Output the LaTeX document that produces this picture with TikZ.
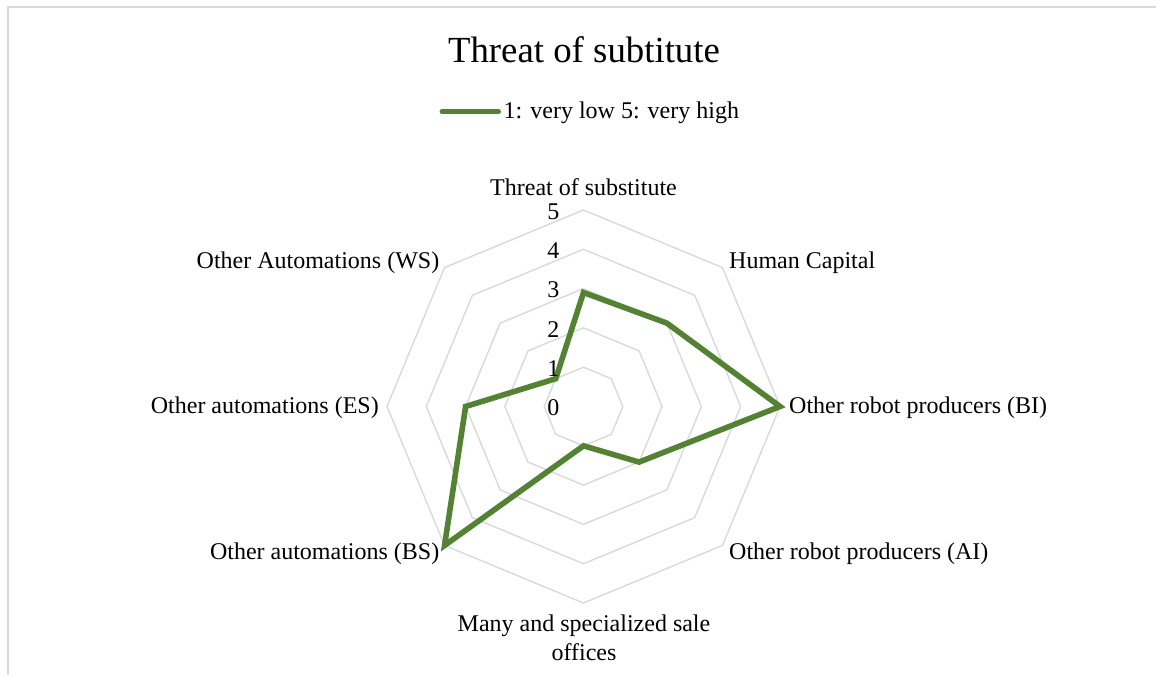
\documentclass[tikz,border=0pt]{standalone}
\usepackage{fontspec}
\setmainfont{Liberation Serif}
\definecolor{seriesgreen}{HTML}{548235}
\definecolor{gridgray}{HTML}{D9D9D9}
\begin{document}
\begin{tikzpicture}[x=1pt,y=1pt,
  lbl/.style={font=\fontsize{24}{28.3}\selectfont, inner sep=0pt, text=black},
  charttitle/.style={font=\fontsize{36.8}{40}\selectfont, inner sep=0pt},
  ring/.style={draw=gridgray, line width=1.4pt, line join=miter},
  seriesline/.style={draw=seriesgreen, line width=5.6pt, line join=miter},
  legendline/.style={draw=seriesgreen, line width=5pt, line cap=round},
  frameline/.style={draw=gridgray, line width=2pt}]
\useasboundingbox (0,0) rectangle (1156,675);

% chart area border (open at right and bottom)
\coordinate (fbl) at (7.5,0);
\coordinate (ftl) at (7.5,667.5);
\coordinate (ftr) at (1156,667.5);
\draw[frameline] (fbl) -- (ftl) -- (ftr);

% title and legend
\node[charttitle, anchor=base] (title) at (584,612.7) {Threat of subtitute};
\coordinate (lgA) at (442,563.3);
\coordinate (lgB) at (498.5,563.3);
\draw[legendline] (lgA) -- (lgB);
\node[lbl, anchor=base west] (lgtext) at (503.5,556) {1: very low 5: very high};

% radar grid and data
\def\u{39.3}
\begin{scope}[shift={(583.5,268.5)}]
  \foreach \k in {1,...,5} {
    \draw[ring] (90:{\k*\u}) \foreach \a in {135,180,...,405} { -- (\a:{\k*\u}) } -- cycle;
  }
  \coordinate (c) at (0,0);
  \coordinate (d1) at (90:{2.9*\u});
  \coordinate (d2) at (45:{3*\u});
  \coordinate (d3) at (0:{5*\u});
  \coordinate (d4) at (-45:{2*\u});
  \coordinate (d5) at (-90:{1*\u});
  \coordinate (d6) at (-135:{5*\u});
  \coordinate (d7) at (180:{3*\u});
  \coordinate (d8) at (135:{1*\u});
  \draw[seriesline] (d1) -- (d2) -- (d3) -- (d4) -- (d5) -- (d6) -- (d7) -- (d8) -- cycle;
\end{scope}

% value axis labels
\foreach \k in {0,...,5} {
  \node[lbl, anchor=base east] (tick\k) at (559.5,{675-(219.3+(5-\k)*39.3)}) {\k};
}

% category labels
\node[lbl, anchor=base] (catA) at (583.5,479) {Threat of substitute};
\node[lbl, anchor=base west] (catB) at (729,406) {Human Capital};
\node[lbl, anchor=base west] (catC) at (789,261.7) {Other robot producers (BI)};
\node[lbl, anchor=base west] (catD) at (729,115.7) {Other robot producers (AI)};
\node[lbl, anchor=base, align=center] (catE) at (584,15) {Many and specialized sale\\offices};
\node[lbl, anchor=base east] (catF) at (439.5,115.7) {Other automations (BS)};
\node[lbl, anchor=base east] (catG) at (379,261.7) {Other automations (ES)};
\node[lbl, anchor=base east] (catH) at (439.5,406) {Other Automations (WS)};
\end{tikzpicture}
\end{document}
